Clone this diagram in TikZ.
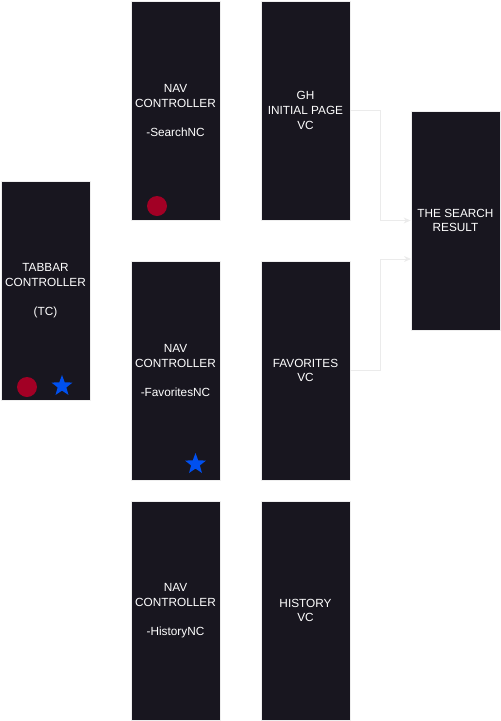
\documentclass[tikz,border=0pt]{standalone}
\usepackage{fontspec}
\setmainfont{Liberation Sans}
\usetikzlibrary{shapes.geometric,arrows.meta}
\definecolor{boxfill}{HTML}{18161F}
\definecolor{boxline}{HTML}{EEEEEE}
\definecolor{dotred}{HTML}{A20025}
\definecolor{starblue}{HTML}{0050EF}
\definecolor{linkgray}{HTML}{EBEBEB}
\tikzset{
  screen/.style={draw=boxline, line width=0.8pt, fill=boxfill, minimum width=89pt, minimum height=219pt,
    inner sep=0pt, text=white, align=center, font=\fontsize{11.8}{14.6}\selectfont},
  reddot/.style={circle, fill=dotred, draw=none, minimum size=20pt, inner sep=0pt},
  bluestar/.style={star, star points=5, star point ratio=2.4, fill=starblue, draw=none, minimum size=22pt, inner sep=0pt},
  link/.style={draw=linkgray, line width=0.8pt, -{Stealth[length=7pt,width=6pt]}}
}
\begin{document}
\begin{tikzpicture}[x=1pt,y=-1pt]
\useasboundingbox (0,0) rectangle (501,721);
\node[screen] (tc) at (45.5,290.5) {TABBAR\\CONTROLLER\\\\(TC)};
\node[screen] (snc) at (175.5,110.5) {NAV\\CONTROLLER\\\\-SearchNC};
\node[screen] (fnc) at (175.5,370.5) {NAV\\CONTROLLER\\\\-FavoritesNC};
\node[screen] (hnc) at (175.5,610.5) {NAV\\CONTROLLER\\\\-HistoryNC};
\node[screen] (gh) at (305.5,110.5) {GH\\INITIAL PAGE\\VC};
\node[screen] (fav) at (305.5,370.5) {FAVORITES\\VC};
\node[screen] (hist) at (305.5,610.5) {HISTORY\\VC};
\node[screen] (res) at (455.5,220.5) {THE SEARCH\\RESULT};
\node[reddot] (d1) at (27,387) {};
\node[bluestar] (s1) at (62,386) {};
\node[reddot] (d2) at (157,206) {};
\node[bluestar] (s2) at (195.5,464) {};
\coordinate (resin) at (411,259);
\draw[link] (gh.east) -- ++(30,0) |- (res.west);
\draw[link] (fav.east) -- ++(30,0) |- (resin);
\end{tikzpicture}
\end{document}
